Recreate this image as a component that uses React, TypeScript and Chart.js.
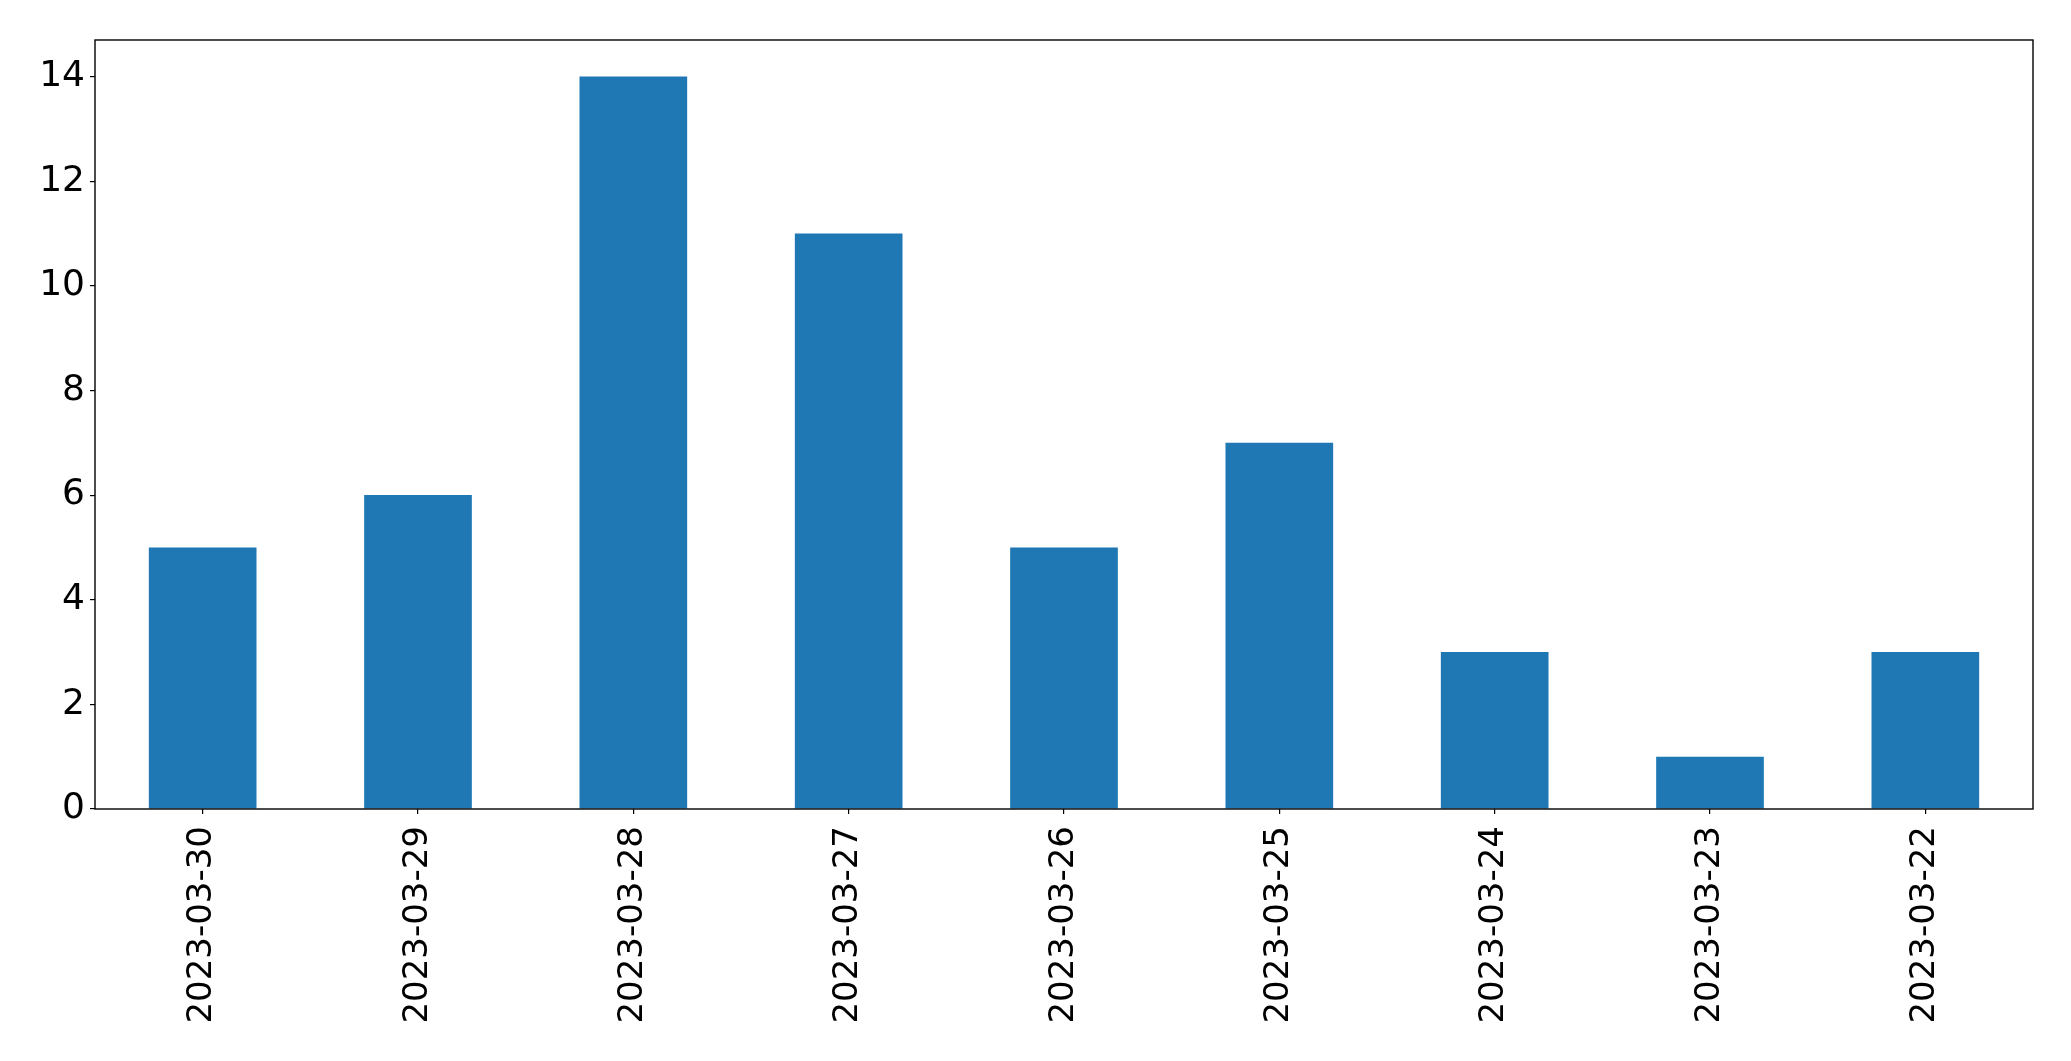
import React, { useEffect, useRef } from "react";
import { Chart, registerables } from "chart.js";

Chart.register(...registerables);

const categories = ["2023-03-30", "2023-03-29", "2023-03-28", "2023-03-27", "2023-03-26", "2023-03-25", "2023-03-24", "2023-03-23", "2023-03-22"];
const values = [5, 6, 14, 11, 5, 7, 3, 1, 3];
const yMax = 14.7;
const yStep = 2;

const framePlugin = {
  id: "frame",
  afterDraw(chart: any) {
    const { ctx, chartArea } = chart;
    ctx.save();
    ctx.strokeStyle = "#000";
    ctx.lineWidth = 1.4;
    ctx.strokeRect(chartArea.left, chartArea.top, chartArea.right - chartArea.left, chartArea.bottom - chartArea.top);
    ctx.restore();
  },
};

export default function App() {
  const ref = useRef<HTMLCanvasElement | null>(null);
  useEffect(() => {
    if (!ref.current) return;
    const chart = new Chart(ref.current, {
      type: "bar",
      data: {
        labels: categories,
        datasets: [
          {
            data: values,
            backgroundColor: "#1f77b4",
            barPercentage: 0.5,
            categoryPercentage: 1,
          },
        ],
      },
      options: {
        responsive: false,
        animation: false,
        devicePixelRatio: 1,
        layout: { padding: { left: 0, top: 40, right: 38, bottom: 0 } },
        plugins: { legend: { display: false }, tooltip: { enabled: false } },
        scales: {
          x: {
            offset: true,
            grid: { display: true, drawOnChartArea: false, drawTicks: true, tickLength: 5, color: "#000", offset: false, lineWidth: 1.2 },
            border: { display: false },
            ticks: { color: "#000", font: { family: "DejaVu Sans", size: 34 }, minRotation: 90, maxRotation: 90, padding: 12, autoSkip: false },
            afterFit: (s: any) => { s.height = 252; },
          },
          y: {
            min: 0,
            max: yMax,
            grid: { display: true, drawOnChartArea: false, drawTicks: true, tickLength: 5, color: "#000", lineWidth: 1.2 },
            border: { display: false },
            ticks: { color: "#000", font: { family: "DejaVu Sans", size: 36 }, stepSize: yStep, includeBounds: false, padding: 5 },
            afterFit: (s: any) => { s.width = 95; },
          },
        },
      },
      plugins: [framePlugin],
    });
    return () => chart.destroy();
  }, []);
  return (
    <div style={{ position: "fixed", left: 0, top: 0, width: 2071, height: 1061, background: "#fff" }}>
      <canvas ref={ref} width={2071} height={1061} style={{ width: 2071, height: 1061 }} />
    </div>
  );
}
